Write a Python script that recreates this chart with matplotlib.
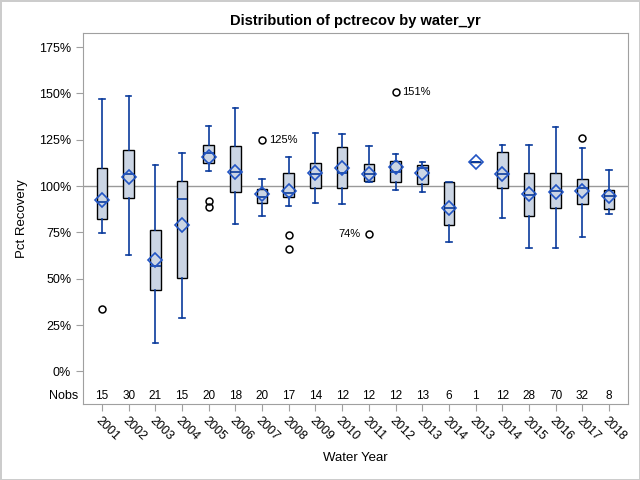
import matplotlib
matplotlib.use("Agg")
import matplotlib.pyplot as plt
import matplotlib.transforms as mtransforms

plt.rcParams['font.family'] = ['Liberation Sans', 'DejaVu Sans']

years = ['2001', '2002', '2003', '2004', '2005', '2006', '2007', '2008', '2009', '2010',
         '2011', '2012', '2013', '2014', '2013', '2014', '2015', '2016', '2017', '2018']
nobs = [15, 30, 21, 15, 20, 18, 20, 17, 14, 12, 12, 12, 13, 6, 1, 12, 28, 70, 32, 8]
whislo = [74.5, 62.8, 15.1, 28.6, 107.9, 79.3, 83.8, 89.2, 90.7, 90.1,
          102.0, 97.8, 96.6, 69.6, 112.8, 82.6, 66.4, 66.4, 72.3, 84.7]
q1 = [82.4, 93.4, 43.9, 50.2, 112.2, 96.6, 90.7, 94.1, 98.9, 98.7,
      102.9, 102.0, 100.9, 78.8, 112.8, 98.7, 83.6, 88.1, 90.1, 87.4]
med = [91.2, 106.3, 56.7, 92.8, 117.6, 107.4, 93.9, 96.0, 106.5, 106.8,
       106.3, 107.6, 109.7, 88.0, 112.8, 106.3, 95.1, 97.5, 98.7, 94.6]
q3 = [109.7, 119.3, 76.1, 102.5, 122.0, 121.4, 98.2, 106.9, 112.2, 120.9,
      111.7, 113.3, 111.2, 102.0, 112.8, 118.2, 106.8, 106.8, 103.8, 97.7]
whishi = [146.8, 148.4, 111.2, 117.6, 132.2, 141.9, 103.8, 115.5, 128.6, 127.9,
          121.4, 117.4, 112.8, 102.0, 112.8, 122.3, 122.3, 132.0, 120.3, 108.6]
means = [92.4, 104.9, 60.2, 78.8, 115.5, 107.4, 95.7, 97.3, 107.2, 109.5,
         106.3, 110.4, 106.8, 88.0, 112.8, 106.3, 95.7, 96.9, 97.5, 94.6]
fliers = [[33.6], [], [], [], [91.9, 88.7], [], [124.8], [73.6, 65.8], [], [],
          [74.1], [150.6], [], [], [], [], [], [], [125.7], []]
# labelled outliers: (category index, value, text, side)
flier_labels = [(6, 124.8, '125%', 'right'), (10, 74.1, '74%', 'left'), (11, 150.6, '151%', 'right')]

stats = []
for i in range(len(years)):
    stats.append(dict(label=years[i], whislo=whislo[i], q1=q1[i], med=med[i], q3=q3[i],
                      whishi=whishi[i], mean=means[i], fliers=fliers[i]))

blue = '#0a3b9c'
fig = plt.figure(figsize=(6.4, 4.8), dpi=100)
fig.patch.set_edgecolor('#cccccc')
fig.patch.set_linewidth(2)
ax = fig.add_axes([83 / 640, 76 / 480, 545 / 640, 371 / 480])

ax.axhline(100, color='#999999', lw=1, zorder=1)
ax.bxp(stats, positions=range(len(years)), widths=0.4, capwidths=0.2,
       patch_artist=True, showmeans=True, manage_ticks=False,
       boxprops=dict(facecolor='#cbd5e4', edgecolor='black', lw=1),
       whiskerprops=dict(color=blue, lw=1.2),
       capprops=dict(color=blue, lw=1.2),
       medianprops=dict(color=blue, lw=1.2),
       meanprops=dict(marker='D', markerfacecolor='none', markeredgecolor='#2255c4',
                      markersize=7, markeredgewidth=1.2),
       flierprops=dict(marker='o', markerfacecolor='none', markeredgecolor='black',
                       markersize=5, markeredgewidth=1.1))

for i, v, t, side in flier_labels:
    if side == 'right':
        ax.annotate(t, (i, v), xytext=(5, 0), textcoords='offset points',
                    ha='left', va='center', fontsize=8, color='black')
    else:
        ax.annotate(t, (i, v), xytext=(-6, 0), textcoords='offset points',
                    ha='right', va='center', fontsize=8, color='black')

ax.set_xlim(-0.71, len(years) - 0.29)
ax.set_ylim(-17.6, 182.6)
ax.set_yticks([0, 25, 50, 75, 100, 125, 150, 175])
ax.set_yticklabels(['%d%%' % v for v in [0, 25, 50, 75, 100, 125, 150, 175]])
ax.set_xticks(range(len(years)))
ax.set_xticklabels(years, rotation=-45, ha='left', va='top', rotation_mode='anchor')

trans = mtransforms.blended_transform_factory(ax.transData, ax.transAxes)
for i, n in enumerate(nobs):
    ax.text(i, 0.022, str(n), transform=trans, ha='center', va='center', fontsize=8.5)
ax.text(-0.008, 0.022, 'Nobs', transform=ax.transAxes, ha='right', va='center', fontsize=9)

for s in ax.spines.values():
    s.set_color('#a0a0a0')
ax.tick_params(axis='both', colors='#a0a0a0', labelcolor='black', labelsize=9, length=5)
ax.tick_params(axis='x', pad=3)

ax.set_title('Distribution of pctrecov by water_yr', fontsize=10.5, fontweight='bold', pad=6)
ax.set_ylabel('Pct Recovery', fontsize=9.5, labelpad=8)
ax.set_xlabel('Water Year', fontsize=9.5, labelpad=6)

fig.savefig('out.png', dpi=100)
